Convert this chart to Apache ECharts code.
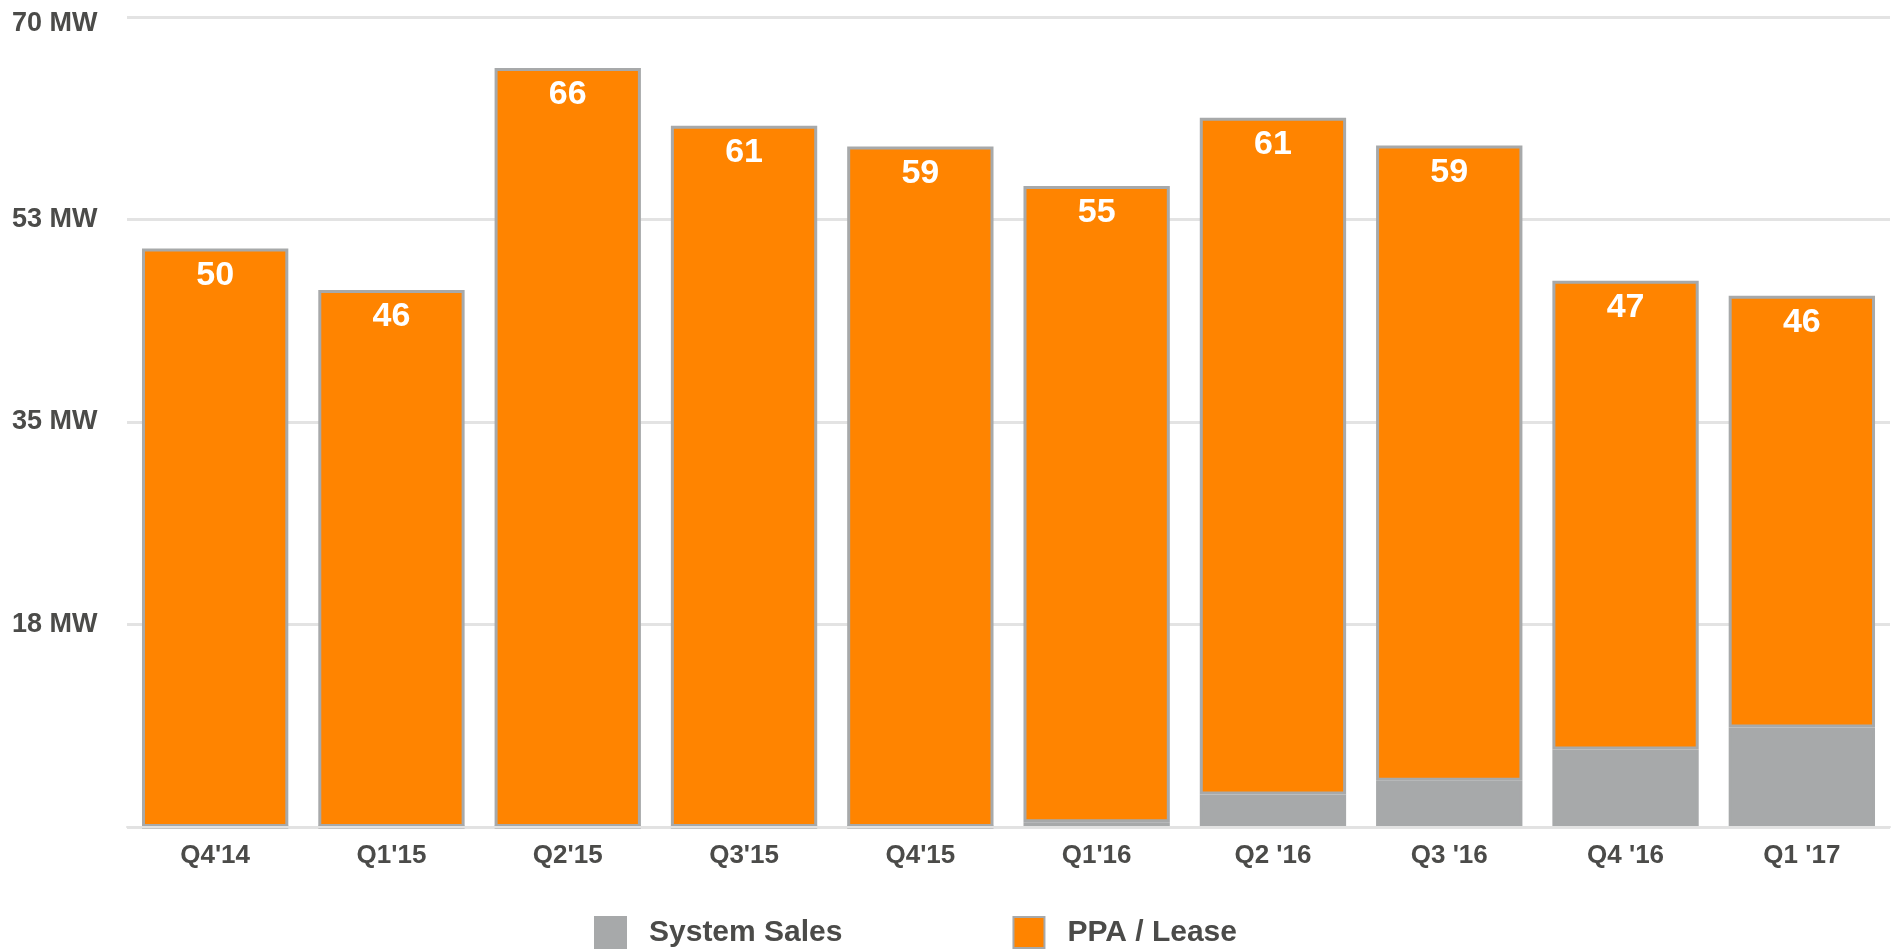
<!DOCTYPE html>
<html>
<head>
<meta charset="utf-8">
<title>MW deployed by quarter</title>
<script src="https://cdn.jsdelivr.net/npm/echarts@6/dist/echarts.min.js"></script>
<style>
  html, body { margin: 0; padding: 0; background: #fff; }
  #chart { width: 1896px; height: 949px; }
</style>
</head>
<body>
<div id="chart"></div>
<script>
const quarters = ["Q4'14", "Q1'15", "Q2'15", "Q3'15", "Q4'15", "Q1'16", "Q2 '16", "Q3 '16", "Q4 '16", "Q1 '17"]
const systemSales = [0, 0, 0, 0, 0, 0.4, 2.8, 4.0, 6.7, 8.6]
const ppaLease = [50.0, 46.4, 65.6, 60.6, 58.8, 55.0, 58.5, 54.9, 40.5, 37.3]
const yTicks = [0, 17.5, 35, 52.5, 70]

const textColor = '#4b4b49'
const gray = '#a7a9aa'
const orange = '#ff8400'
const font = '"Liberation Sans", Arial, sans-serif'

const chart = echarts.init(document.getElementById('chart'))

chart.setOption({
  animation: false,
  textStyle: { fontFamily: font },
  grid: {
    left: 127,
    right: 6,
    top: 17,
    bottom: 122
  },
  legend: {
    left: 589,
    top: 911,
    itemWidth: 31,
    itemHeight: 31,
    itemGap: 170,
    icon: 'rect',
    textStyle: {
      color: textColor,
      fontSize: 30,
      fontWeight: 'bold',
      fontFamily: font,
      padding: [0, 0, 0, 18]
    },
    data: ['System Sales', 'PPA / Lease']
  },
  xAxis: {
    type: 'category',
    data: quarters,
    z: 3,
    axisLine: {
      lineStyle: { color: '#e2e2e2', width: 2 }
    },
    axisTick: { show: false },
    axisLabel: {
      color: textColor,
      fontSize: 26,
      fontWeight: 'bold',
      margin: 16
    }
  },
  yAxis: {
    type: 'value',
    min: yTicks[0],
    max: yTicks[yTicks.length - 1],
    interval: yTicks[1] - yTicks[0],
    axisLine: { show: false },
    axisTick: { show: false },
    splitLine: {
      lineStyle: { color: '#e3e3e3', width: 3 }
    },
    axisLabel: {
      color: textColor,
      fontSize: 27,
      fontWeight: 'bold',
      align: 'left',
      margin: 115,
      formatter: function (v) {
        if (v === 0) return ''
        const txt = Math.round(v) + ' MW'
        return v === yTicks[yTicks.length - 1] ? '{top|' + txt + '}' : txt
      },
      rich: {
        top: {
          color: textColor,
          fontSize: 27,
          fontWeight: 'bold',
          padding: [14, 0, 0, 0]
        }
      }
    }
  },
  series: [
    {
      name: 'System Sales',
      type: 'bar',
      stack: 'mw',
      barCategoryGap: '17%',
      data: systemSales,
      itemStyle: {
        color: gray,
        borderColor: gray,
        borderWidth: 3
      }
    },
    {
      name: 'PPA / Lease',
      type: 'bar',
      stack: 'mw',
      barCategoryGap: '17%',
      data: ppaLease,
      itemStyle: {
        color: orange,
        borderColor: gray,
        borderWidth: 3
      },
      label: {
        show: true,
        position: 'insideTop',
        distance: 10,
        color: '#fff',
        fontSize: 34,
        fontWeight: 'bold',
        formatter: function (p) {
          return Math.round(p.value + systemSales[p.dataIndex])
        }
      }
    }
  ]
})
</script>
</body>
</html>
